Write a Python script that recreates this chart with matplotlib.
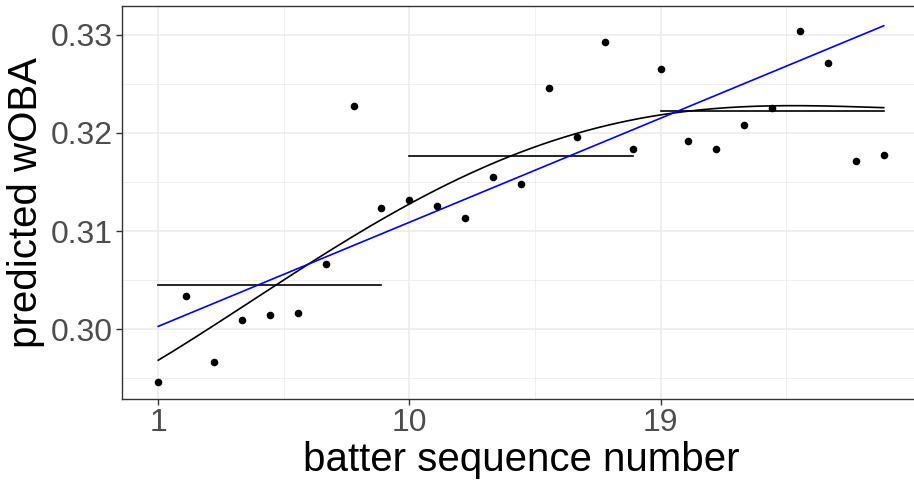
import numpy as np
import matplotlib
matplotlib.use("Agg")
import matplotlib.pyplot as plt

batter_seq = np.arange(1, 28)
pred_woba = [0.2946, 0.30336, 0.29664, 0.30092, 0.30142, 0.30163, 0.30661, 0.32278, 0.31231,
             0.31312, 0.31251, 0.31129, 0.31546, 0.31475, 0.32461, 0.31953, 0.32929, 0.31831,
             0.32654, 0.31912, 0.31831, 0.32075, 0.32248, 0.33041, 0.32715, 0.31709, 0.31770]
# linear trend (intercept, slope)
linear_fit = (0.29912, 0.0011769)
# smooth curve values
curve_x = [1, 5.13, 7.4, 10, 13.73, 16.04, 19.3, 23.1, 24.6, 27]
curve_y = [0.29683, 0.30447, 0.30825, 0.31288, 0.3177, 0.31991, 0.3221, 0.32265, 0.32275, 0.32258]
x_ticks = [1, 10, 19]
y_ticks = [0.30, 0.31, 0.32, 0.33]
y_tick_labels = ["0.30", "0.31", "0.32", "0.33"]

plt.rcParams['font.family'] = ['Liberation Sans', 'DejaVu Sans']

x = np.asarray(batter_seq, dtype=float)
y = np.asarray(pred_woba)

fig = plt.figure(figsize=(9.14, 4.84), dpi=100)
W, H = 914, 484
left, right, top, bottom = 122, 920, 6, 399
ax = fig.add_axes([left / W, 1 - bottom / H, (right - left) / W, (bottom - top) / H])

# gridlines
for v in [5.5, 14.5, 23.5]:
    ax.axvline(v, color='#EBEBEB', lw=0.55, zorder=0)
for v in x_ticks:
    ax.axvline(v, color='#EBEBEB', lw=1.1, zorder=0)
for v in [0.295, 0.305, 0.315, 0.325]:
    ax.axhline(v, color='#EBEBEB', lw=0.55, zorder=0)
for v in y_ticks:
    ax.axhline(v, color='#EBEBEB', lw=1.1, zorder=0)

# group means
for g in range(3):
    xs = x[g * 9:(g + 1) * 9]
    ys = y[g * 9:(g + 1) * 9]
    ax.plot([xs.min(), xs.max()], [ys.mean(), ys.mean()], color='black', lw=1.2, zorder=2)

xx = np.linspace(1, 27, 200)
cfit = np.polyfit(curve_x, curve_y, 4)
ax.plot(xx, np.polyval(cfit, xx), color='black', lw=1.2, zorder=2)
ax.plot(xx, linear_fit[0] + linear_fit[1] * xx, color='#0000EE', lw=1.2, zorder=3)

ax.scatter(x, y, s=30, color='black', zorder=4, linewidths=0)

ax.set_xlim(-0.3, 28.3)
ax.set_ylim(0.2929, 0.33291)
ax.set_xticks(x_ticks)
ax.set_xticklabels([str(t) for t in x_ticks])
ax.set_yticks(y_ticks)
ax.set_yticklabels(y_tick_labels)
ax.tick_params(axis='both', colors='#333333', labelcolor='#4D4D4D', labelsize=23,
               length=4, width=1, direction='out', pad=2.5)
for s in ax.spines.values():
    s.set_color('#333333')
    s.set_linewidth(1.0)

ax.set_xlabel('batter sequence number', fontsize=29, color='black', labelpad=2)
ax.set_ylabel('predicted wOBA', fontsize=29, color='black', labelpad=4)

fig.savefig('out.png', dpi=100)
